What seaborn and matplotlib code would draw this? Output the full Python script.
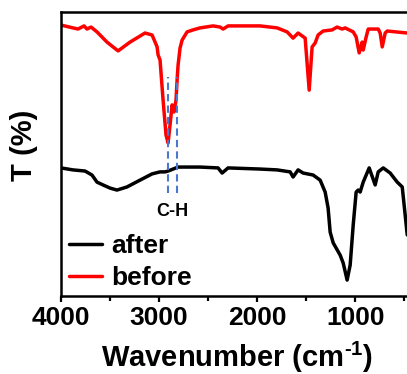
import numpy as np
import pandas as pd
import matplotlib
matplotlib.use("Agg")
import matplotlib.pyplot as plt
from matplotlib.ticker import MultipleLocator
import seaborn as sns

# FTIR spectra (wavenumber in cm^-1, transmittance in arbitrary %)
before_wn = [4000, 3878, 3827, 3765, 3735, 3694, 3633, 3531, 3418, 3296, 3143, 3071,
             3020, 3010, 2990, 2959, 2929, 2908, 2888, 2867, 2847, 2827, 2816, 2806,
             2786, 2765, 2714, 2653, 2582, 2449, 2378, 2347, 2296, 1969, 1796, 1694,
             1633, 1582, 1510, 1469, 1439, 1408, 1378, 1327, 1235, 1184, 1133, 1102,
             1020, 990, 959, 929, 918, 888, 867, 765, 745, 724, 694, 673, 469]
before_t = [95.4, 94.4, 94.0, 95.1, 94.0, 94.7, 93.0, 89.4, 86.3, 89.4, 92.6, 91.9,
            87.7, 84.9, 83.1, 69.0, 56.7, 53.9, 60.2, 67.3, 64.8, 69.0, 76.1, 81.3,
            87.3, 90.1, 93.0, 93.7, 94.4, 95.1, 94.7, 94.0, 95.1, 95.1, 94.4, 93.0,
            90.8, 92.6, 90.8, 72.5, 87.7, 89.1, 91.9, 93.3, 93.7, 94.7, 94.0, 94.4,
            93.0, 91.2, 85.6, 89.4, 86.6, 91.2, 94.0, 94.0, 92.6, 87.7, 92.6, 93.3, 92.6]

after_wn = [4000, 3878, 3755, 3684, 3633, 3571, 3500, 3429, 3327, 3194, 3071, 2990,
            2939, 2908, 2857, 2806, 2582, 2398, 2357, 2296, 1969, 1796, 1663, 1633,
            1582, 1531, 1429, 1357, 1306, 1276, 1255, 1224, 1153, 1122, 1082, 1051,
            1020, 990, 969, 949, 918, 857, 796, 765, 714, 643, 571, 520, 490, 469]
after_t = [45.1, 44.4, 44.0, 42.6, 40.1, 39.1, 38.0, 37.3, 38.4, 40.8, 43.0, 43.7,
           43.7, 44.0, 44.7, 45.4, 45.4, 45.1, 43.3, 45.1, 44.7, 44.4, 43.7, 41.9,
           44.4, 43.3, 42.6, 40.8, 36.6, 31.0, 22.5, 18.7, 14.4, 11.6, 5.6, 10.9,
           25.0, 36.6, 37.3, 36.6, 40.1, 45.1, 39.1, 43.7, 45.1, 43.3, 40.1, 38.4,
           28.5, 21.5]

# C-H stretching marker positions
ch_wn = [2911, 2819]
ch_label = "C-H"

sns.set_style("ticks")
plt.rcParams["font.family"] = ["Liberation Sans", "DejaVu Sans"]
plt.rcParams["font.weight"] = "bold"
plt.rcParams["axes.labelweight"] = "bold"
plt.rcParams["mathtext.fontset"] = "custom"
plt.rcParams["mathtext.rm"] = "Liberation Sans:bold"
plt.rcParams["mathtext.bf"] = "Liberation Sans:bold"
plt.rcParams["mathtext.it"] = "Liberation Sans:bold"
for key in ["text.color", "axes.labelcolor", "xtick.color", "ytick.color", "axes.edgecolor"]:
    plt.rcParams[key] = "black"

df = pd.concat([
    pd.DataFrame({"wn": after_wn, "T": after_t, "sample": "after"}),
    pd.DataFrame({"wn": before_wn, "T": before_t, "sample": "before"}),
])

fig = plt.figure(figsize=(4.07, 3.74), dpi=100)
ax = fig.add_axes([61 / 407, 1 - 296 / 374, 353 / 407, 284 / 374])

sns.lineplot(data=df, x="wn", y="T", hue="sample", estimator=None, sort=False,
             palette={"after": "black", "before": "red"}, linewidth=2.5, ax=ax)

ax.vlines(ch_wn, 36.3, 77.1, colors="#4a78d0", linestyles=(0, (3.5, 2)), linewidth=1.5)
ax.text(np.mean(ch_wn), 29.9, ch_label, ha="center", va="center", fontsize=13,
        fontweight="bold")

ax.set_xlim(4000, 400)
ax.set_ylim(0, 100)
ax.xaxis.set_major_locator(MultipleLocator(1000))
ax.xaxis.set_minor_locator(MultipleLocator(500))
ax.set_yticks([])
ax.tick_params(axis="x", which="major", direction="out", length=4, width=1.6,
               labelsize=19, pad=3)
ax.tick_params(axis="x", which="minor", direction="out", length=3.5, width=1.6)
for lab in ax.get_xticklabels():
    lab.set_fontweight("bold")
for s in ax.spines.values():
    s.set_linewidth(1.8)
    s.set_color("black")
    s.set_visible(True)

ax.set_xlabel("Wavenumber (cm$^{\\mathrm{\u20101}}$)", fontsize=21, fontweight="bold",
              labelpad=7)
ax.set_ylabel("T (%)", fontsize=21, fontweight="bold")
ax.yaxis.set_label_coords(-0.064, 0.53)

ax.legend(loc="lower left", bbox_to_anchor=(-0.022, -0.035), frameon=False,
          prop={"size": 19, "weight": "bold"}, handlelength=1.25,
          handletextpad=0.35, labelspacing=0.3, borderaxespad=0.2)

fig.savefig("out.png", dpi=100)
